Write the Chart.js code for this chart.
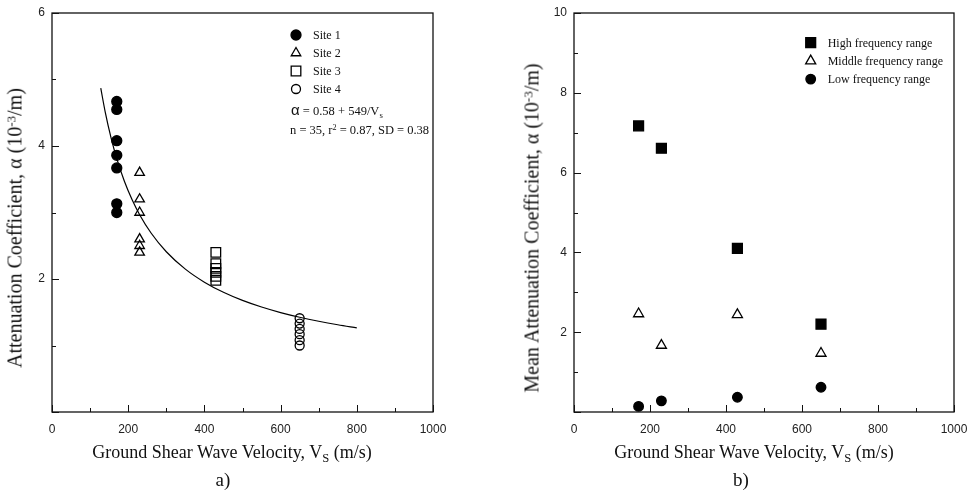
<!DOCTYPE html>
<html>
<head>
<meta charset="utf-8">
<script src="https://cdn.jsdelivr.net/npm/chart.js@4"></script>
<style>
  body { margin: 0; background: #fff; }
  #wrap { position: relative; width: 974px; height: 492px; overflow: hidden; }
  canvas { position: absolute; top: 0; }
  .txt { position: absolute; font-family: "Liberation Serif", "Times New Roman", serif; color: #111; white-space: nowrap; }
  .c { transform: translate(-50%, -50%); }
  .rot { transform: translate(-50%, -50%) rotate(-90deg); font-size: 20px; }
  .ttl { font-size: 18px; }
  .lbl { font-size: 19px; }
  .eq { font-size: 12.5px; transform: translateY(-50%); }
  .sub { font-size: 70%; position: relative; top: 0.3em; }
  .sup { font-size: 65%; position: relative; top: -0.45em; }
</style>
</head>
<body>
<div id="wrap">
  <canvas id="chartA" width="487" height="492" style="left:0"></canvas>
  <canvas id="chartB" width="487" height="492" style="left:487px"></canvas>

  <div class="txt rot" style="left:15px; top:228px">Attenuation Coefficient, α (10<span class="sup">-3</span>/m)</div>
  <div class="txt ttl c" style="left:232px; top:452px">Ground Shear Wave Velocity, V<span class="sub">S</span> (m/s)</div>
  <div class="txt lbl c" style="left:223px; top:480px">a)</div>
  <div class="txt eq" style="left:291px; top:110px"><span style="font-family:'Liberation Sans',sans-serif;font-size:15px">α</span> = 0.58 + 549/V<span class="sub">s</span></div>
  <div class="txt eq" style="left:290px; top:130px">n = 35, r<span class="sup">2</span> = 0.87, SD = 0.38</div>

  <div class="txt rot" style="left:532px; top:228px">Mean Attenuation Coefficient, α (10<span class="sup">-3</span>/m)</div>
  <div class="txt ttl c" style="left:754px; top:452px">Ground Shear Wave Velocity, V<span class="sub">S</span> (m/s)</div>
  <div class="txt lbl c" style="left:741px; top:480px">b)</div>
</div>
<script>
// --- DATOS (a) ---
const site1V = 170, site1A = [4.67, 4.55, 4.08, 3.86, 3.67, 3.13, 3.0];
const site2V = 230, site2A = [3.6, 3.2, 3.0, 2.6, 2.5, 2.4];
const site3V = 430, site3A = [2.4, 2.23, 2.16, 2.1, 2.04, 1.98];
const site4V = 650, site4A = [1.41, 1.33, 1.25, 1.17, 1.08, 1.0];
// curva de ajuste: alpha = 0.58 + 549/Vs
const fitA = 0.58, fitB = 549;
const fitV = [128, 140, 155, 170, 190, 210, 230, 260, 300, 350, 400, 450, 500, 550, 600, 650, 700, 750, 800];

// --- DATOS (b) ---
const freqV = [170, 230, 430, 650];
const highFreq = [7.17, 6.61, 4.10, 2.20];
const midFreq = [2.46, 1.67, 2.44, 1.47];
const lowFreq = [0.14, 0.28, 0.37, 0.62];

const xTicks = [0, 200, 400, 600, 800, 1000];

const pts = (v, arr) => arr.map(a => ({ x: v, y: a }));
const pairs = (xs, ys) => xs.map((x, i) => ({ x: x, y: ys[i] }));

function drawMarker(ctx, style, x, y, r, fill) {
    ctx.beginPath();
    if (style === 'circle') {
        ctx.arc(x, y, r, 0, Math.PI * 2);
    } else if (style === 'triangle') {
        for (let k = 0; k < 3; k++) {
            const a = k * 2 * Math.PI / 3;
            const px = x + Math.sin(a) * r, py = y - Math.cos(a) * r;
            k === 0 ? ctx.moveTo(px, py) : ctx.lineTo(px, py);
        }
        ctx.closePath();
    } else {
        const s = r * Math.SQRT1_2;
        ctx.rect(x - s, y - s, 2 * s, 2 * s);
    }
    ctx.fillStyle = fill;
    ctx.fill();
    ctx.lineWidth = 1.3;
    ctx.strokeStyle = '#000';
    ctx.stroke();
}

// marco, marcas hacia dentro y leyenda
const framePlugin = {
    id: 'frame',
    afterDraw(chart, args, opts) {
        const { ctx, chartArea: ca, scales } = chart;
        ctx.save();
        ctx.strokeStyle = '#111';
        ctx.lineWidth = 1.3;
        ctx.strokeRect(ca.left, ca.top, ca.right - ca.left, ca.bottom - ca.top);
        ctx.lineWidth = 1;
        ctx.beginPath();
        for (let v = 0; v <= 1000; v += 100) {
            const px = Math.round(scales.x.getPixelForValue(v)) + 0.5;
            const len = v % 200 === 0 ? 7 : 4;
            ctx.moveTo(px, ca.bottom);
            ctx.lineTo(px, ca.bottom - len);
        }
        for (let v = 0; v <= scales.y.max; v += 1) {
            const py = Math.round(scales.y.getPixelForValue(v)) + 0.5;
            const len = v % 2 === 0 ? 7 : 4;
            ctx.moveTo(ca.left, py);
            ctx.lineTo(ca.left + len, py);
        }
        ctx.stroke();

        ctx.font = '12px "Liberation Serif", serif';
        ctx.textBaseline = 'middle';
        opts.items.forEach((it, i) => {
            const y = opts.y + i * opts.dy;
            const ds = chart.data.datasets[it];
            drawMarker(ctx, ds.pointStyle, opts.x, y, ds.pointRadius, ds.pointBackgroundColor === 'rgba(0,0,0,0)' ? '#fff' : ds.pointBackgroundColor);
            ctx.fillStyle = '#111';
            ctx.fillText(ds.label, opts.textX, y + 1);
        });
        ctx.restore();
    }
};

function scaleOpts(yMax, yWidth) {
    return {
        x: {
            type: 'linear', min: 0, max: 1000,
            afterBuildTicks: s => { s.ticks = xTicks.map(v => ({ value: v })); },
            ticks: { font: { family: 'Liberation Sans', size: 12 }, color: '#222', padding: 10, maxRotation: 0,
                     callback: v => String(v) },
            grid: { display: false, drawTicks: false }, border: { display: false },
            afterFit: s => { s.height = 30; s.paddingLeft = 0; s.paddingRight = 0; }
        },
        y: {
            type: 'linear', min: 0, max: yMax,
            ticks: { stepSize: 2, font: { family: 'Liberation Sans', size: 12 }, color: '#222', padding: 7,
                     callback: v => v === 0 ? '' : String(v) },
            grid: { display: false, drawTicks: false }, border: { display: false },
            afterFit: s => { s.width = yWidth; s.paddingTop = 0; s.paddingBottom = 0; }
        }
    };
}

const SITE = { backgroundColor: '#000', borderColor: '#000', pointBorderColor: '#000', pointBorderWidth: 1.3 };

new Chart(document.getElementById('chartA'), {
    type: 'scatter',
    data: {
        datasets: [
            { label: 'Site 1', data: pts(site1V, site1A), pointStyle: 'circle', pointRadius: 5, pointBackgroundColor: '#000', ...SITE },
            { label: 'Site 2', data: pts(site2V, site2A), pointStyle: 'triangle', pointRadius: 5.5, pointBackgroundColor: 'rgba(0,0,0,0)', ...SITE },
            { label: 'Site 3', data: pts(site3V, site3A), pointStyle: 'rect', pointRadius: 6.8, pointBackgroundColor: 'rgba(0,0,0,0)', ...SITE },
            { label: 'Site 4', data: pts(site4V, site4A), pointStyle: 'circle', pointRadius: 4.5, pointBackgroundColor: 'rgba(0,0,0,0)', ...SITE },
            { label: 'fit', data: fitV.map(v => ({ x: v, y: fitA + fitB / v })), showLine: true, pointRadius: 0,
              borderColor: '#000', borderWidth: 1.2, cubicInterpolationMode: 'monotone', order: 10 }
        ]
    },
    options: {
        responsive: false, animation: false, devicePixelRatio: 1,
        layout: { padding: { left: 0, right: 54, top: 13, bottom: 50 } },
        scales: scaleOpts(6, 52),
        plugins: {
            legend: { display: false }, tooltip: { enabled: false },
            frame: { items: [0, 1, 2, 3], x: 296, y: 35, dy: 18, textX: 313 }
        }
    },
    plugins: [framePlugin]
});

new Chart(document.getElementById('chartB'), {
    type: 'scatter',
    data: {
        datasets: [
            { label: 'High frequency range', data: pairs(freqV, highFreq), pointStyle: 'rect', pointRadius: 7, pointBackgroundColor: '#000', ...SITE },
            { label: 'Middle frequency range', data: pairs(freqV, midFreq), pointStyle: 'triangle', pointRadius: 5.8, pointBackgroundColor: '#fff', ...SITE },
            { label: 'Low frequency range', data: pairs(freqV, lowFreq), pointStyle: 'circle', pointRadius: 4.8, pointBackgroundColor: '#000', ...SITE }
        ]
    },
    options: {
        responsive: false, animation: false, devicePixelRatio: 1,
        layout: { padding: { left: 0, right: 20, top: 13, bottom: 50 } },
        scales: scaleOpts(10, 87),
        plugins: {
            legend: { display: false }, tooltip: { enabled: false },
            frame: { items: [0, 1, 2], x: 323.7, y: 42.7, dy: 18.2, textX: 340.7 }
        }
    },
    plugins: [framePlugin]
});
</script>
</body>
</html>
